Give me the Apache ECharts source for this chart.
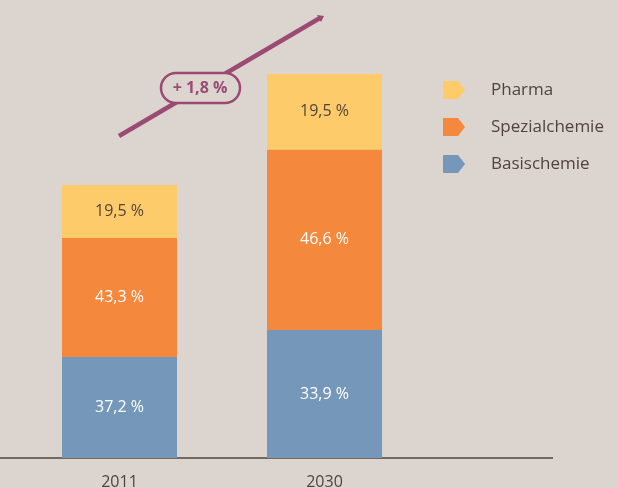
<!DOCTYPE html>
<html>
<head>
<meta charset="utf-8">
<script src="https://cdn.jsdelivr.net/npm/echarts@6/dist/echarts.min.js"></script>
<style>
  html, body { margin: 0; padding: 0; background: #dbd4cf; }
  #chart { width: 618px; height: 488px; }
</style>
</head>
<body>
<div id="chart"></div>
<script>
// Jahre
var years = ['2011', '2030']
var basisValues = [37.0, 46.9]
var spezialValues = [43.6, 66.1]
var pharmaValues = [19.4, 27.7]
// Anteile als Beschriftung
var basisLabels = ['37,2 %', '33,9 %']
var spezialLabels = ['43,3 %', '46,6 %']
var pharmaLabels = ['19,5 %', '19,5 %']
var growthLabel = '+ 1,8 %'

var bg = '#dbd4cf'
var textColor = '#52443b'
var purple = '#9b4a72'
var font = 'Open Sans'
var tagIcon = 'path://M0,0 L15,0 L22,9 L15,18 L0,18 Z'

var myChart = echarts.init(document.getElementById('chart'))

function barSeries (name, values, labels, color, labelColor) {
  return {
    name: name,
    type: 'bar',
    stack: 'total',
    barWidth: 115,
    itemStyle: { color: color },
    label: {
      show: true,
      position: 'inside',
      color: labelColor,
      fontFamily: font,
      fontSize: 16,
      formatter: function (p) { return labels[p.dataIndex] }
    },
    data: values
  }
}

var option = {
  backgroundColor: bg,
  animation: false,
  grid: { left: 17, right: 191, top: 21.2, bottom: 30, outerBoundsMode: 'none', containLabel: false },
  legend: {
    orient: 'vertical',
    left: 438,
    top: 76,
    itemWidth: 22,
    itemHeight: 18,
    itemGap: 19,
    data: [
      { name: 'Pharma', icon: tagIcon },
      { name: 'Spezialchemie', icon: tagIcon },
      { name: 'Basischemie', icon: tagIcon }
    ],
    textStyle: {
      color: textColor,
      fontFamily: font,
      fontSize: 17,
      padding: [0, 0, 0, 21]
    }
  },
  xAxis: {
    type: 'category',
    data: years,
    axisLine: { show: false },
    axisTick: { show: false },
    axisLabel: { color: textColor, fontFamily: font, fontSize: 16, margin: 16 }
  },
  yAxis: {
    type: 'value',
    min: 0,
    max: 160,
    show: false,
    splitLine: { show: false }
  },
  series: [
    barSeries('Basischemie', basisValues, basisLabels, '#7598ba', '#ffffff'),
    barSeries('Spezialchemie', spezialValues, spezialLabels, '#f4883d', '#ffffff'),
    barSeries('Pharma', pharmaValues, pharmaLabels, '#fecb6a', textColor)
  ],
  graphic: [
    {
      type: 'line',
      shape: { x1: 0, y1: 458, x2: 553, y2: 458 },
      style: { stroke: textColor, lineWidth: 1.5 }
    },
    {
      type: 'line',
      shape: { x1: 119, y1: 136, x2: 320, y2: 18 },
      style: { stroke: purple, lineWidth: 4.5 },
      z: 10
    },
    {
      type: 'polygon',
      shape: { points: [[317, 15], [324, 16], [321, 22]] },
      style: { fill: purple },
      z: 10
    },
    {
      type: 'rect',
      shape: { x: 161, y: 73, width: 79, height: 30, r: 15 },
      style: { fill: bg, stroke: purple, lineWidth: 2.5 },
      z: 11
    },
    {
      type: 'text',
      x: 200,
      y: 88,
      style: {
        text: growthLabel,
        fill: purple,
        font: 'bold 16px "Open Sans"',
        align: 'center',
        verticalAlign: 'middle'
      },
      z: 12
    }
  ]
}

myChart.setOption(option)
</script>
</body>
</html>
